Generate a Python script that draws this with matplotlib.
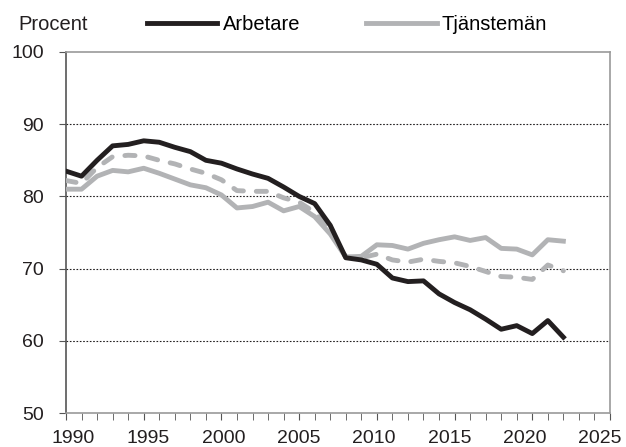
import numpy as np
import matplotlib.pyplot as plt
import matplotlib.transforms as mtransforms

plt.rcParams['font.family'] = ['Liberation Sans', 'DejaVu Sans']

years = np.arange(1990, 2023)

arbetare = [83.5, 82.8, 85.0, 87.0, 87.2, 87.7, 87.5, 86.8, 86.2, 85.0,
            84.6, 83.8, 83.1, 82.5, 81.3, 80.0, 79.0, 76.0, 71.5, 71.2,
            70.6, 68.7, 68.2, 68.3, 66.5, 65.3, 64.3, 63.0, 61.6, 62.1,
            61.0, 62.8, 60.5]

tjanstemen = [81.0, 81.0, 82.8, 83.6, 83.4, 83.9, 83.2, 82.4, 81.6, 81.2,
              80.2, 78.4, 78.6, 79.2, 78.0, 78.6, 77.2, 74.8, 71.6, 71.7,
              73.3, 73.2, 72.7, 73.5, 74.0, 74.4, 73.9, 74.3, 72.8, 72.7,
              71.9, 74.0, 73.8]

totalt = [82.2, 81.8, 84.0, 85.5, 85.7, 85.6, 85.0, 84.5, 83.8, 83.2,
          82.3, 80.8, 80.7, 80.7, 79.8, 79.2, 77.8, 75.3, 71.6, 71.5,
          72.0, 71.2, 70.9, 71.3, 71.0, 70.8, 70.3, 69.6, 68.9, 68.8,
          68.5, 70.5, 69.7]

xtick_years = [1990, 1995, 2000, 2005, 2010, 2015, 2020, 2025]
ytick_vals = [50, 60, 70, 80, 90, 100]

dark = '#231f20'
gray = '#b2b3b5'

fig = plt.figure(figsize=(6.26, 4.47), dpi=100)
ax = fig.add_axes([66/626, 1-413/447, (610-66)/626, (413-52)/447])

ax.plot(years, totalt, color=gray, lw=3.5, dashes=(2.1, 2.65),
        dash_capstyle='round', zorder=3)
ax.plot(years, tjanstemen, color=gray, lw=3.5, label='Tjänstemän',
        solid_joinstyle='round', zorder=3)
ax.plot(years, arbetare, color=dark, lw=3.5, label='Arbetare',
        solid_joinstyle='round', zorder=4)

ax.set_xlim(1990, 2025)
ax.set_ylim(50, 100)
ax.set_xticks(xtick_years)
ax.set_xticks(np.arange(1990, 2026, 1), minor=True)
ax.set_xticklabels([])
ax.set_yticks(ytick_vals)
for y in ytick_vals[1:-1]:
    ax.axhline(y, color=dark, lw=0.8, ls=(0, (1.5, 1.5)), zorder=1)

for s in ax.spines.values():
    s.set_color('#9a9a9a')
    s.set_linewidth(1.2)
ax.spines['left'].set_color('#555555')
ax.tick_params(axis='both', which='both', direction='out', length=5,
               color='#555555', labelsize=14, colors=dark)
ax.tick_params(axis='y', pad=11)

# x labels in the original sit a bit inward from their ticks
trans = mtransforms.blended_transform_factory(ax.transData, ax.transAxes)
for yr in xtick_years:
    xpos = 1990.45 + (yr - 1990) * 0.969
    ax.text(xpos, -0.048, str(yr), transform=trans, ha='center', va='top',
            fontsize=14, color=dark)

fig.text(18/626, 1-25/447, 'Procent', fontsize=14.5, va='center', color=dark)

h, l = ax.get_legend_handles_labels()
fig.legend(h[::-1], l[::-1], loc='center left', bbox_to_anchor=(147/626, 1-25/447),
           ncol=2, frameon=False, fontsize=14.5, handlelength=3.5, handletextpad=0.25,
           columnspacing=3.3, borderaxespad=0, borderpad=0)

fig.savefig('out.png', dpi=100)
